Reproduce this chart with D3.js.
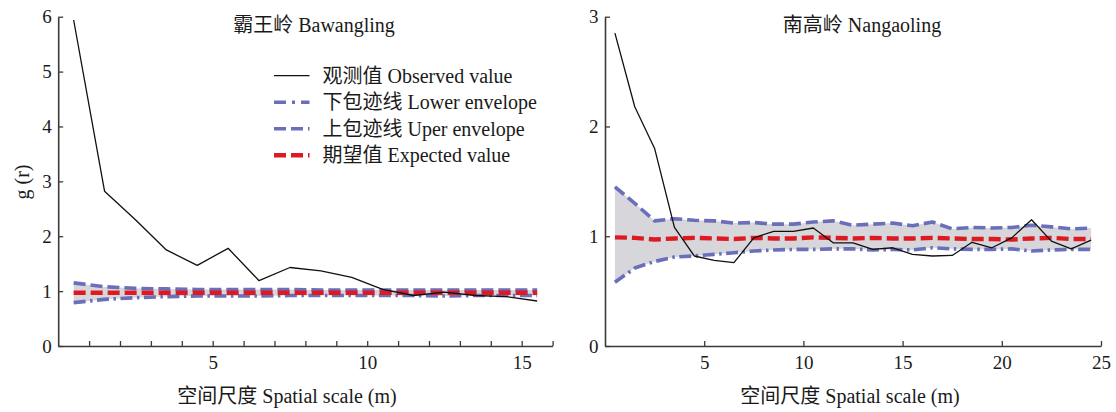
<!DOCTYPE html>
<html>
<head>
<meta charset="utf-8">
<script src="https://cdn.jsdelivr.net/npm/d3@7/dist/d3.min.js"></script>
<style>
  html, body { margin: 0; padding: 0; background: #fff; }
  svg text { font-family: "Liberation Serif", "Noto Sans CJK SC", serif; fill: #1a1a1a; }
</style>
</head>
<body>
<svg id="chart" width="1116" height="412"></svg>
<script>
// Pair-correlation function g(r) of two plots, with envelopes from simulations.

// Bawangling plot
const radiusBW   = [0.5, 1.5, 2.5, 3.5, 4.5, 5.5, 6.5, 7.5, 8.5, 9.5, 10.5, 11.5, 12.5, 13.5, 14.5, 15.5];
const observedBW = [5.94, 2.82, 2.30, 1.75, 1.47, 1.78, 1.19, 1.43, 1.37, 1.25, 1.03, 0.92, 0.98, 0.92, 0.90, 0.82];
const lowerBW    = [0.79, 0.85, 0.88, 0.90, 0.91, 0.91, 0.91, 0.92, 0.92, 0.92, 0.92, 0.92, 0.91, 0.92, 0.92, 0.92];
const upperBW    = [1.15, 1.08, 1.05, 1.04, 1.03, 1.03, 1.03, 1.03, 1.02, 1.02, 1.02, 1.02, 1.02, 1.02, 1.02, 1.02];
const expectedBW = [0.97, 0.97, 0.97, 0.97, 0.97, 0.97, 0.97, 0.97, 0.97, 0.97, 0.97, 0.97, 0.97, 0.97, 0.97, 0.97];

// Nangaoling plot
const radiusNG   = [0.5, 1.5, 2.5, 3.5, 4.5, 5.5, 6.5, 7.5, 8.5, 9.5, 10.5, 11.5, 12.5, 13.5, 14.5, 15.5, 16.5, 17.5, 18.5, 19.5, 20.5, 21.5, 22.5, 23.5, 24.5];
const observedNG = [2.85, 2.18, 1.80, 1.08, 0.82, 0.78, 0.76, 0.985, 1.045, 1.045, 1.075, 0.94, 0.94, 0.88, 0.895, 0.835, 0.82, 0.825, 0.945, 0.895, 0.985, 1.15, 0.955, 0.885, 0.965];
const lowerNG    = [0.58, 0.71, 0.77, 0.81, 0.82, 0.835, 0.85, 0.865, 0.875, 0.88, 0.88, 0.885, 0.885, 0.875, 0.88, 0.875, 0.895, 0.885, 0.88, 0.88, 0.885, 0.865, 0.875, 0.88, 0.88];
const upperNG    = [1.45, 1.30, 1.14, 1.16, 1.145, 1.14, 1.12, 1.125, 1.11, 1.11, 1.13, 1.14, 1.10, 1.11, 1.12, 1.095, 1.13, 1.067, 1.08, 1.075, 1.08, 1.10, 1.085, 1.067, 1.075];
const expectedNG = [0.99, 0.985, 0.97, 0.98, 0.985, 0.98, 0.975, 0.985, 0.98, 0.98, 0.99, 0.985, 0.98, 0.985, 0.98, 0.98, 0.985, 0.98, 0.975, 0.975, 0.97, 0.98, 0.985, 0.975, 0.975];

// Axis ticks and labels
const xTicksBW  = [1, 2, 3, 4, 5, 6, 7, 8, 9, 10, 11, 12, 13, 14, 15, 16];
const xLabelsBW = [5, 10, 15];
const yTicksBW  = [0, 1, 2, 3, 4, 5, 6];
const xTicksNG  = [5, 10, 15, 20, 25];
const xLabelsNG = [5, 10, 15, 20, 25];
const yTicksNG  = [0, 1, 2, 3];

const titles = ["霸王岭 Bawangling", "南高岭 Nangaoling"];
const xTitle = "空间尺度 Spatial scale (m)";
const yTitle = "g (r)";
const legendLabels = ["观测值 Observed value", "下包迹线 Lower envelope", "上包迹线 Uper envelope", "期望值 Expected value"];

const BLUE = "#6a6fba", RED = "#dd1a22", FILL = "#d7d6db", AXIS = "#3a3a3a";
const SERIF = '"Liberation Serif", "Noto Sans CJK SC", serif';
const styles = {
  observed: { stroke: "#111", width: 1.3, dash: null },
  lower:    { stroke: BLUE, width: 3.6, dash: "12,4.5,2.5,4.5" },
  upper:    { stroke: BLUE, width: 3.6, dash: "12,5" },
  expected: { stroke: RED,  width: 4.4, dash: "12,5" }
};

const svg = d3.select("#chart");

function drawPanel(p) {
  const x = d3.scaleLinear().domain(p.xDomain).range(p.xRange);
  const y = d3.scaleLinear().domain(p.yDomain).range([346, 16.7]);
  const g = svg.append("g");

  const rows = p.r.map((r, i) => ({ r, obs: p.obs[i], lo: p.lo[i], up: p.up[i], ex: p.ex[i] }));

  // envelope band
  g.append("path").datum(rows)
    .attr("fill", FILL)
    .attr("d", d3.area().x(d => x(d.r)).y0(d => y(d.lo)).y1(d => y(d.up)));

  const line = key => d3.line().x(d => x(d.r)).y(d => y(d[key]));
  [["lo", styles.lower], ["up", styles.upper], ["ex", styles.expected], ["obs", styles.observed]].forEach(([key, s]) => {
    g.append("path").datum(rows)
      .attr("fill", "none")
      .attr("stroke", s.stroke)
      .attr("stroke-width", s.width)
      .attr("stroke-dasharray", s.dash)
      .attr("stroke-linejoin", "round")
      .attr("d", line(key));
  });

  // axes, ticks pointing inward
  const xAxis = d3.axisBottom(x).tickValues(p.xTicks)
    .tickFormat(d => p.xLabels.includes(d) ? d3.format("d")(d) : "")
    .tickSizeInner(-5).tickSizeOuter(0).tickPadding(10);
  const yAxis = d3.axisLeft(y).tickValues(p.yTicks)
    .tickFormat(d3.format("d"))
    .tickSizeInner(-5).tickSizeOuter(0).tickPadding(6.5);

  const gx = g.append("g").attr("transform", "translate(0,346)").call(xAxis);
  const gy = g.append("g").attr("transform", `translate(${p.xRange[0]},0)`).call(yAxis);
  [gx, gy].forEach(a => {
    a.attr("font-family", SERIF);
    a.select(".domain").attr("stroke", AXIS).attr("stroke-width", 1.6);
    a.selectAll(".tick line").attr("stroke", AXIS).attr("stroke-width", 1.3);
    a.selectAll(".tick text").attr("font-size", 19).attr("fill", "#1a1a1a")
      .style("font-family", SERIF);
  });

  g.append("text").attr("x", p.titleX).attr("y", 32)
    .attr("text-anchor", "middle").attr("font-size", 20).text(p.title);
  g.append("text").attr("x", p.xTitleX).attr("y", 403)
    .attr("text-anchor", "middle").attr("font-size", 20).text(xTitle);
}

drawPanel({
  r: radiusBW, obs: observedBW, lo: lowerBW, up: upperBW, ex: expectedBW,
  xDomain: [0, 16], xRange: [58.2, 552.6], yDomain: [0, 6],
  xTicks: xTicksBW, xLabels: xLabelsBW, yTicks: yTicksBW,
  title: titles[0], titleX: 314, xTitleX: 287
});
drawPanel({
  r: radiusNG, obs: observedNG, lo: lowerNG, up: upperNG, ex: expectedNG,
  xDomain: [0, 25], xRange: [605, 1101], yDomain: [0, 3],
  xTicks: xTicksNG, xLabels: xLabelsNG, yTicks: yTicksNG,
  title: titles[1], titleX: 862, xTitleX: 850
});

// y-axis title
svg.append("text")
  .attr("transform", "translate(22,182) rotate(-90)")
  .attr("text-anchor", "middle").attr("dominant-baseline", "central")
  .attr("font-size", 20).text(yTitle);

// legend inside the Bawangling panel
const legendKeys = [styles.observed, styles.lower, styles.upper, styles.expected];
const legendDash = [null, "12,6,3,6", "12,5", "12,5"];
const legend = svg.append("g");
legendKeys.forEach((s, i) => {
  const yy = 75.7 + i * 26.5;
  legend.append("line")
    .attr("x1", 274).attr("x2", 309.5).attr("y1", yy).attr("y2", yy)
    .attr("stroke", s.stroke)
    .attr("stroke-width", s.width)
    .attr("stroke-dasharray", legendDash[i]);
  legend.append("text")
    .attr("x", 322.5).attr("y", yy).attr("dy", "0.35em")
    .attr("font-size", 20).text(legendLabels[i]);
});
</script>
</body>
</html>
